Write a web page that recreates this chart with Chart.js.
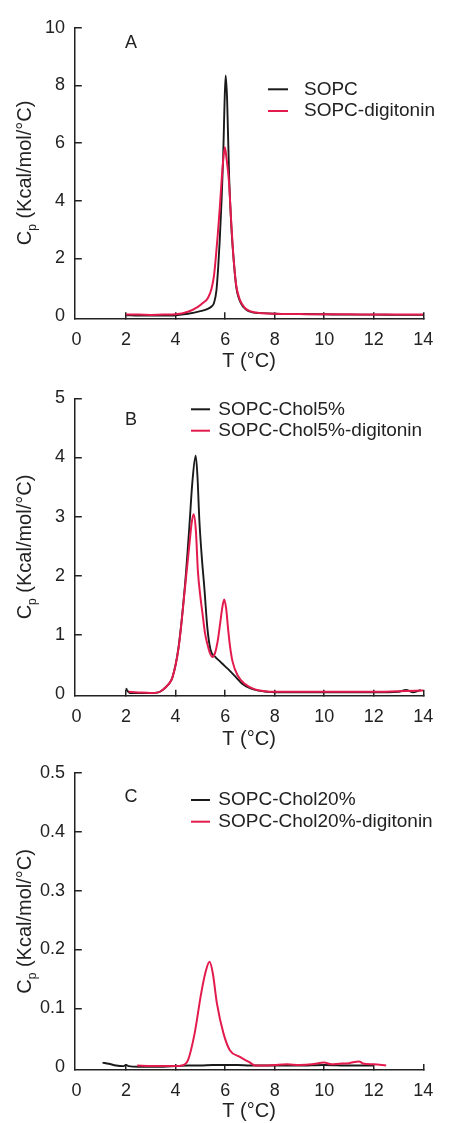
<!DOCTYPE html>
<html><head><meta charset="utf-8">
<script src="https://cdn.jsdelivr.net/npm/chart.js@4.4.1/dist/chart.umd.min.js"></script>
<style>
html,body{margin:0;padding:0;background:#fff;width:450px;height:1123px;overflow:hidden;position:relative;}
canvas{position:absolute;left:0;}
</style></head><body>
<canvas id="cA" width="450" height="375" style="top:0px"></canvas>
<canvas id="cB" width="450" height="382" style="top:370px"></canvas>
<canvas id="cC" width="450" height="383" style="top:740px"></canvas>
<script>
// ---------- data ----------
const xTicks = [0, 2, 4, 6, 8, 10, 12, 14];
const yTicksA = [0, 2, 4, 6, 8, 10];
const yTicksB = [0, 1, 2, 3, 4, 5];
const yTicksC = [0, 0.1, 0.2, 0.3, 0.4, 0.5];

const labelsA = ['SOPC', 'SOPC-digitonin'];
const labelsB = ['SOPC-Chol5%', 'SOPC-Chol5%-digitonin'];
const labelsC = ['SOPC-Chol20%', 'SOPC-Chol20%-digitonin'];

// Panel A
const tA_sopc  = [2.0, 2.5, 3.0, 3.5, 4.0, 4.5, 5.0, 5.3, 5.45, 5.55, 5.65, 5.72, 5.78, 5.85, 5.92, 5.97, 6.02, 6.08, 6.16, 6.25, 6.34, 6.45, 6.64, 6.85, 7.1, 7.5, 8.0, 9.0, 10.0, 11.0, 12.0, 13.0, 14.0];
const cpA_sopc = [0.03, 0.02, 0.02, 0.02, 0.03, 0.08, 0.17, 0.25, 0.33, 0.45, 0.9, 1.7, 2.6, 3.9, 5.5, 7.2, 8.34, 7.5, 4.85, 3.1, 2.0, 1.0, 0.44, 0.22, 0.13, 0.1, 0.08, 0.07, 0.06, 0.05, 0.05, 0.04, 0.04];
const tA_dig   = [2.0, 2.5, 3.0, 3.5, 4.0, 4.5, 4.9, 5.1, 5.3, 5.45, 5.55, 5.62, 5.7, 5.78, 5.85, 5.92, 5.99, 6.05, 6.15, 6.25, 6.34, 6.45, 6.6, 6.8, 7.0, 7.5, 8.0, 9.0, 10.0, 11.0, 12.0, 13.0, 14.0];
const cpA_dig  = [0.05, 0.05, 0.04, 0.05, 0.06, 0.15, 0.32, 0.45, 0.62, 0.95, 1.4, 2.0, 2.8, 3.7, 4.6, 5.4, 5.85, 5.5, 4.7, 3.2, 2.0, 1.05, 0.55, 0.28, 0.17, 0.1, 0.08, 0.07, 0.06, 0.06, 0.05, 0.05, 0.05];

// Panel B
const tB_chol  = [2.0, 2.05, 2.15, 2.5, 3.0, 3.3, 3.5, 3.7, 3.87, 4.12, 4.38, 4.55, 4.68, 4.81, 4.88, 4.96, 5.06, 5.16, 5.28, 5.41, 5.6, 5.8, 6.0, 6.2, 6.45, 6.7, 7.0, 7.35, 7.7, 8.0, 9.0, 10.0, 11.0, 12.0, 13.0, 13.3, 13.6, 13.9];
const cpB_chol = [0.1, 0.06, 0.02, 0.02, 0.02, 0.03, 0.08, 0.16, 0.28, 0.8, 1.85, 2.8, 3.6, 4.03, 3.7, 2.93, 2.3, 1.8, 1.13, 0.75, 0.63, 0.55, 0.47, 0.39, 0.28, 0.17, 0.1, 0.06, 0.04, 0.03, 0.03, 0.03, 0.03, 0.03, 0.04, 0.07, 0.03, 0.07];
const tB_dig   = [2.1, 2.5, 3.0, 3.3, 3.5, 3.7, 3.87, 4.12, 4.38, 4.55, 4.65, 4.73, 4.82, 4.9, 5.0, 5.09, 5.18, 5.28, 5.38, 5.48, 5.58, 5.7, 5.8, 5.88, 5.96, 6.04, 6.12, 6.2, 6.3, 6.5, 6.8, 7.2, 7.6, 8.0, 9.0, 10.0, 11.0, 12.0, 13.0, 14.0];
const cpB_dig  = [0.04, 0.03, 0.02, 0.03, 0.08, 0.16, 0.28, 0.78, 1.8, 2.5, 2.9, 3.04, 2.75, 2.08, 1.65, 1.35, 1.05, 0.85, 0.7, 0.63, 0.68, 0.9, 1.2, 1.45, 1.6, 1.45, 1.1, 0.8, 0.55, 0.32, 0.17, 0.08, 0.05, 0.04, 0.04, 0.04, 0.04, 0.04, 0.05, 0.06];

// Panel C
const tC_chol  = [1.05, 1.3, 1.6, 1.9, 2.0, 2.1, 2.5, 3.0, 3.5, 4.0, 4.5, 5.0, 5.5, 6.0, 6.5, 7.0, 8.0, 9.0, 10.0, 11.0, 12.0];
const cpC_chol = [0.008, 0.006, 0.003, 0.002, 0.004, 0.002, 0.001, 0.001, 0.001, 0.002, 0.003, 0.003, 0.004, 0.004, 0.004, 0.003, 0.003, 0.003, 0.004, 0.003, 0.003];
const tC_dig   = [2.45, 3.0, 3.5, 4.0, 4.26, 4.5, 4.77, 5.03, 5.2, 5.37, 5.5, 5.67, 5.93, 6.19, 6.58, 6.96, 7.22, 7.6, 8.0, 8.5, 9.0, 9.5, 10.0, 10.3, 10.6, 11.0, 11.4, 11.6, 12.0, 12.5];
const cpC_dig  = [0.003, 0.002, 0.002, 0.002, 0.003, 0.012, 0.058, 0.125, 0.16, 0.179, 0.16, 0.108, 0.058, 0.029, 0.018, 0.009, 0.003, 0.003, 0.004, 0.005, 0.004, 0.005, 0.008, 0.005, 0.006, 0.007, 0.01, 0.006, 0.005, 0.003];

// ---------- styling ----------
const FONT = "'Liberation Sans', Arial, Helvetica, sans-serif";
const INK = '#222';
const BLACK = '#1a1a1a';
const RED = '#e31b4d';
Chart.defaults.font.family = FONT;
Chart.defaults.color = INK;

const decor = {
  id: 'decor',
  afterDraw(chart, args, o) {
    const ctx = chart.ctx, ca = chart.chartArea;
    ctx.save();
    ctx.fillStyle = INK;
    ctx.font = '18px ' + FONT;
    ctx.textAlign = 'center';
    ctx.textBaseline = 'middle';
    ctx.fillText(o.letter, o.letterX, o.letterY);
    ctx.font = '19px ' + FONT;
    ctx.textAlign = 'left';
    chart.data.datasets.forEach((ds, i) => {
      const y = o.legY + i * o.legGap;
      ctx.strokeStyle = ds.borderColor;
      ctx.lineWidth = 2;
      ctx.beginPath(); ctx.moveTo(o.legX1, y); ctx.lineTo(o.legX2, y); ctx.stroke();
      ctx.fillText(ds.label, o.legTx, y);
    });
    // y-axis title with subscript
    const cy = (ca.top + ca.bottom) / 2;
    ctx.translate(31, cy);
    ctx.rotate(-Math.PI / 2);
    ctx.textBaseline = 'alphabetic';
    const big = '20px ' + FONT, small = '12px ' + FONT;
    ctx.font = big; const wC = ctx.measureText('C').width;
    const rest = ' (Kcal/mol/°C)';
    const wR = ctx.measureText(rest).width;
    ctx.font = small; const wP = ctx.measureText('p').width;
    let x = -(wC + wP + wR) / 2;
    ctx.font = big; ctx.fillText('C', x, 0); x += wC;
    ctx.font = small; ctx.fillText('p', x, 5); x += wP;
    ctx.font = big; ctx.fillText(rest, x, 0);
    ctx.restore();
  }
};

function gridOpts(len) {
  return {
    display: true, drawOnChartArea: false, drawTicks: true, tickLength: len, lineWidth: 1.5,
    color: c => (c.tick && c.tick.value === 0) ? 'rgba(0,0,0,0)' : INK
  };
}

function makePanel(id, p) {
  const ds = [
    { label: p.labels[0], data: p.x1.map((x, i) => ({ x: x, y: p.y1[i] })), borderColor: BLACK, borderWidth: 1.9, order: 1 },
    { label: p.labels[1], data: p.x2.map((x, i) => ({ x: x, y: p.y2[i] })), borderColor: RED, borderWidth: 2, order: 0 }
  ].map(d => Object.assign(d, { pointRadius: 0, fill: false, cubicInterpolationMode: 'monotone' }));
  new Chart(document.getElementById(id), {
    type: 'line',
    data: { datasets: ds },
    plugins: [decor],
    options: {
      responsive: false, animation: false, devicePixelRatio: 1,
      layout: { padding: { left: 0, right: 11.3, top: p.padTop, bottom: p.padBottom } },
      plugins: { legend: { display: false }, tooltip: { enabled: false }, decor: p.decor },
      scales: {
        x: {
          type: 'linear', min: -0.07, max: 14,
          afterBuildTicks: s => { s.ticks = xTicks.map(v => ({ value: v })); },
          afterFit: s => { s.height = p.xH; },
          ticks: { font: { size: 18 }, color: INK, padding: 16.7, maxRotation: 0, autoSkip: false, callback: v => String(v) },
          grid: gridOpts(-6),
          border: { display: true, color: INK, width: 1.5 },
          title: { display: true, text: 'T (°C)', font: { size: 20 }, color: INK, padding: { top: 0, bottom: 0 } }
        },
        y: {
          type: 'linear', min: p.yMin, max: p.yMax,
          afterBuildTicks: s => { s.ticks = p.yTicks.map(v => ({ value: v })); },
          afterFit: s => { s.width = 74.8; },
          ticks: { font: { size: 18 }, color: INK, padding: 16.8, autoSkip: false, callback: v => String(Math.round(v * 1000) / 1000) },
          grid: gridOpts(-7),
          border: { display: true, color: INK, width: 1.5 },
          title: { display: false }
        }
      }
    }
  });
}

makePanel('cA', {
  labels: labelsA, x1: tA_sopc, y1: cpA_sopc, x2: tA_dig, y2: cpA_dig,
  yMin: -0.078, yMax: 10, yTicks: yTicksA, padTop: 21, padBottom: 1.3, xH: 55.4,
  decor: { letter: 'A', letterX: 131, letterY: 43.3, legX1: 268, legX2: 288, legTx: 304, legY: 89.3, legGap: 21.7 }
});
makePanel('cB', {
  labels: labelsB, x1: tB_chol, y1: cpB_chol, x2: tB_dig, y2: cpB_dig,
  yMin: -0.026, yMax: 5, yTicks: yTicksB, padTop: 28.3, padBottom: 0.9, xH: 55.4,
  decor: { letter: 'B', letterX: 131, letterY: 50, legX1: 191, legX2: 210, legTx: 218.3, legY: 39.3, legGap: 21.4 }
});
makePanel('cC', {
  labels: labelsC, x1: tC_chol, y1: cpC_chol, x2: tC_dig, y2: cpC_dig,
  yMin: -0.0046, yMax: 0.5, yTicks: yTicksC, padTop: 32.8, padBottom: 0, xH: 53,
  decor: { letter: 'C', letterX: 131, letterY: 56.7, legX1: 191, legX2: 210, legTx: 218.3, legY: 60, legGap: 21.7 }
});
</script>
</body></html>
